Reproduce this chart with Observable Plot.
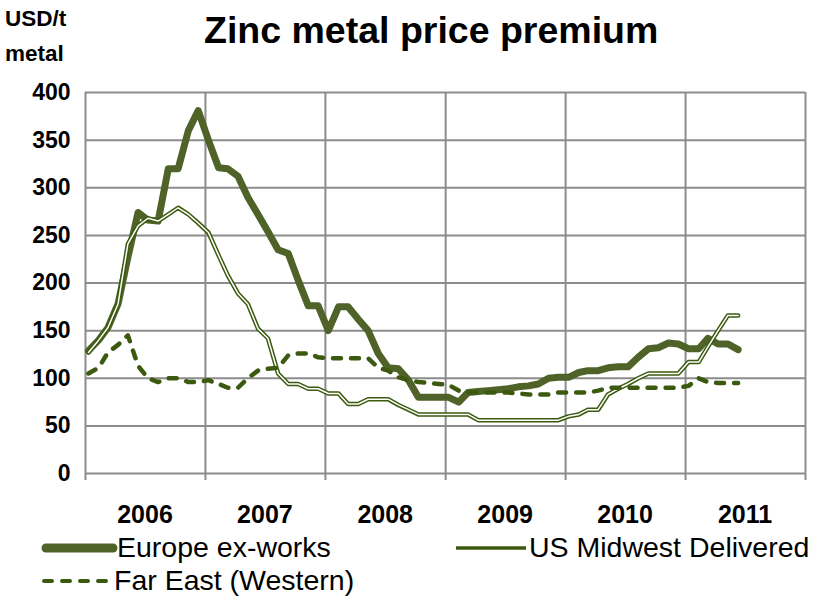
<!DOCTYPE html>
<html>
<head>
<meta charset="utf-8">
<script src="https://cdn.jsdelivr.net/npm/d3@7"></script>
<script src="https://cdn.jsdelivr.net/npm/@observablehq/plot@0.6"></script>
<style>
  html, body { margin: 0; padding: 0; background: #fff; }
  #wrap { position: relative; width: 819px; height: 600px; overflow: hidden; font-family: "Liberation Sans", Arial, sans-serif; color: #000; }
  .abs { position: absolute; white-space: nowrap; line-height: 1; }
  #title { left: 204px; top: 12px; font-size: 37.5px; font-weight: bold; }
  .unit { left: 5px; font-size: 22.5px; font-weight: bold; }
  #chart { position: absolute; left: 0; top: 70px; }
  .leg { font-size: 28.5px; }
</style>
</head>
<body>
<div id="wrap">
  <div id="title" class="abs">Zinc metal price premium</div>
  <div class="abs unit" style="top:8px">USD/t</div>
  <div class="abs unit" style="top:43px">metal</div>
  <div id="chart"></div>
  <svg class="abs" style="left:0;top:530px" width="819" height="70">
    <line x1="46" y1="18" x2="113" y2="18" stroke="#4f6228" stroke-width="9" stroke-linecap="round"/>
    <line x1="456" y1="18" x2="526" y2="18" stroke="#3b5a0f" stroke-width="3.5"/>
    <line x1="44" y1="51" x2="112" y2="51" stroke="#3b5a0f" stroke-width="4" stroke-dasharray="8,10" stroke-linecap="round"/>
  </svg>
  <div class="abs leg" style="left:117px;top:533px">Europe ex-works</div>
  <div class="abs leg" style="left:529px;top:533px">US Midwest Delivered</div>
  <div class="abs leg" style="left:114px;top:566px">Far East (Western)</div>
</div>
<script>
// Monthly observations, Jan 2006 (index 0) to Jun 2011 (index 65)
const europe = [129,140,153,178,227,274,266,265,320,320,360,381,
  350,321,320,312,290,272,254,235,231,203,176,176,
  150,175,175,162,150,126,111,110,98,80,80,80,
  80,75,85,86,87,88,89,91,92,94,100,101,
  101,106,108,108,111,112,112,122,131,132,137,136,
  131,131,142,136,136,130];
const usMidwest = [127,140,153,178,241,260,268,265,272,279,272,263,
  253,229,208,189,178,152,142,105,94,94,89,89,
  84,84,73,73,78,78,78,72,67,62,62,62,
  62,62,62,56,56,56,56,56,56,56,56,56,
  60,62,67,67,83,89,94,100,105,105,105,105,
  117,117,133,150,166,166];
const farEast = [105,111,127,135,145,113,100,96,100,100,96,96,
  98,94,90,90,100,108,110,111,124,126,126,122,
  121,121,121,121,121,111,108,101,98,96,95,94,
  93,87,85,85,85,85,85,84,83,83,83,85,
  85,85,85,87,90,90,90,90,90,90,90,90,
  92,100,96,95,95,95];
const yearLabels = ["2006","2007","2008","2009","2010","2011"];
const yTicks = [0,50,100,150,200,250,300,350,400];

const monthDate = (i) => new Date(Date.UTC(2006, i, 10));
const rows = (arr) => arr.map((v, i) => ({date: monthDate(i), value: v}));
const yearStarts = [...yearLabels, "2012"].map(y => new Date(Date.UTC(+y, 0, 1)));
const midYears = yearLabels.map(y => new Date(Date.UTC(+y, 6, 1)));

const grid = "#8c8c8c";
const chart = Plot.plot({
  width: 819, height: 470,
  marginTop: 22, marginBottom: 67, marginLeft: 85, marginRight: 14,
  style: {fontFamily: "'Liberation Sans', Arial, sans-serif", color: "#000", background: "#fff", overflow: "visible"},
  x: {type: "utc", domain: [yearStarts[0], yearStarts[yearStarts.length - 1]]},
  y: {domain: [0, 400]},
  marks: [
    Plot.gridY(yTicks, {stroke: grid, strokeOpacity: 1, strokeWidth: 2}),
    Plot.gridX(yearStarts, {stroke: grid, strokeOpacity: 1, strokeWidth: 2}),
    Plot.axisY(yTicks, {tickSize: 0, tickPadding: 15, fontSize: 23, fontWeight: "bold", label: null}),
    Plot.axisX(yearStarts, {tickSize: 7, stroke: grid, strokeWidth: 2, tickFormat: () => "", label: null}),
    Plot.axisX(midYears, {tickSize: 0, tickPadding: 32, fontSize: 25, fontWeight: "bold", label: null,
      tickFormat: (d) => yearLabels[midYears.findIndex(m => +m === +d)]}),
    Plot.lineY(rows(europe), {x: "date", y: "value", stroke: "#4f6228", strokeWidth: 7, strokeLinejoin: "round", strokeLinecap: "round"}),
    Plot.lineY(rows(usMidwest), {x: "date", y: "value", stroke: "#3b5a0f", strokeWidth: 4.5, strokeLinejoin: "round"}),
    Plot.lineY(rows(usMidwest), {x: "date", y: "value", stroke: "#ffffff", strokeWidth: 1.5, strokeLinejoin: "round"}),
    Plot.lineY(rows(farEast), {x: "date", y: "value", stroke: "#3b5a0f", strokeWidth: 4.5, strokeDasharray: "8,10", strokeLinecap: "round", strokeLinejoin: "round"})
  ]
});
document.getElementById("chart").appendChild(chart);
</script>
</body>
</html>
